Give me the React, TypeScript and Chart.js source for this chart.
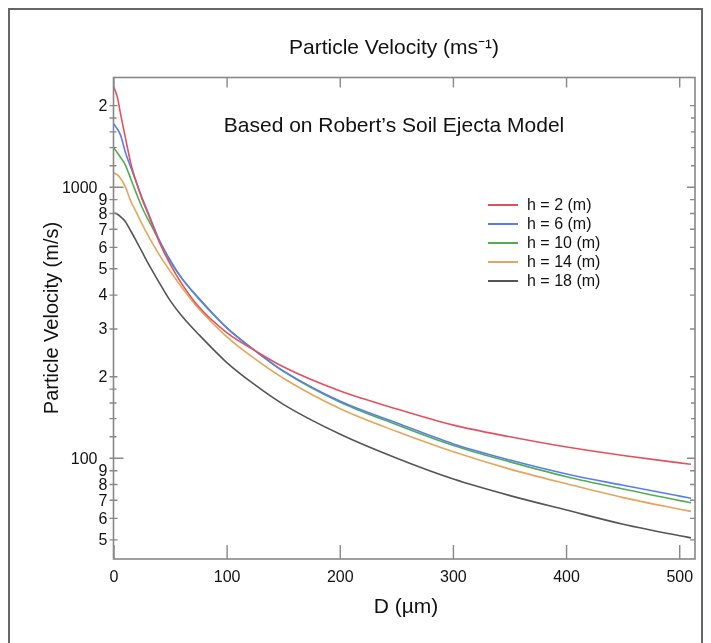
import React, { useEffect, useRef } from 'react';
import { Chart, registerables } from 'chart.js';

Chart.register(...registerables);

// Particle diameter D (µm)
const diameters = [0, 3, 6, 10, 15, 20, 25, 30, 40, 50, 60, 75, 100, 125, 150, 200, 250, 300, 350, 400, 450, 500, 510];

// Particle velocity (m/s) per depth h
const velH2 = [2340, 2150, 1850, 1530, 1220, 1038, 900, 800, 629, 517, 440, 362, 290, 249, 217, 177, 152, 132.5, 120, 110, 102.4, 96.2, 95];
const velH6 = [1710, 1640, 1550, 1350, 1180, 1035, 910, 810, 640, 536, 462, 390, 302, 249, 209.6, 162.3, 135, 113, 98.5, 87.5, 79.5, 72.5, 71.2];
const velH10 = [1395, 1340, 1285, 1210, 1070, 945, 840, 762, 636, 530, 460, 387, 302, 249, 209, 161, 133, 111.5, 97, 85.5, 77, 69.8, 68.6];
const velH14 = [1130, 1110, 1075, 1005, 885, 804, 730, 666, 564, 488, 427, 356, 280, 232, 197, 152.3, 125.5, 105.7, 91.2, 80.5, 71.6, 64.9, 63.7];
const velH18 = [804, 795, 778, 748, 688, 630, 576, 526, 445, 380, 335, 286, 225, 186, 157.8, 122.6, 100, 83.8, 72.8, 64.4, 57.1, 51.8, 50.9];

const seriesLabels = ['h = 2 (m)', 'h = 6 (m)', 'h = 10 (m)', 'h = 14 (m)', 'h = 18 (m)'];
const seriesValues = [velH2, velH6, velH10, velH14, velH18];
const seriesColors = ['#e2525e', '#5a7cf2', '#4fae50', '#e4a55c', '#555555'];

const xTickValues = [0, 100, 200, 300, 400, 500];
const xTickLabels = ['0', '100', '200', '300', '400', '500'];

const yTickValues = [2000, 1000, 900, 800, 700, 600, 500, 400, 300, 200, 100, 90, 80, 70, 60, 50];
const yTickLabels = ['2', '1000', '9', '8', '7', '6', '5', '4', '3', '2', '100', '9', '8', '7', '6', '5'];
const yMinorTicks = [1200, 1400, 1600, 1800, 120, 140, 160, 180];
const yDecades = [1000, 100];

const chartTitle = 'Particle Velocity (ms\u207B\u00B9)';
const noteText = 'Based on Robert\u2019s Soil Ejecta Model';
const xTitle = 'D (\u00B5m)';
const yTitle = 'Particle Velocity (m/s)';

const FONT = '"Liberation Sans", Arial, sans-serif';

const decorPlugin = {
  id: 'decor',
  afterDatasetsDraw(chart: any) {
    const ctx = chart.ctx as CanvasRenderingContext2D;
    const xs = chart.scales.x;
    const ys = chart.scales.y;
    const { left, right, top, bottom } = chart.chartArea;
    ctx.save();

    // outer frame
    ctx.strokeStyle = '#666666';
    ctx.lineWidth = 2;
    ctx.beginPath();
    ctx.moveTo(9, 660);
    ctx.lineTo(9, 9);
    ctx.lineTo(702, 9);
    ctx.lineTo(702, 660);
    ctx.stroke();

    // axes box
    ctx.strokeStyle = '#888888';
    ctx.lineWidth = 1.6;
    ctx.strokeRect(left, top, right - left, bottom - top);

    // x ticks (inward, bottom and top)
    ctx.lineWidth = 1.4;
    ctx.fillStyle = '#111';
    ctx.font = `16px ${FONT}`;
    ctx.textAlign = 'center';
    ctx.textBaseline = 'middle';
    xTickValues.forEach((v, i) => {
      const px = xs.getPixelForValue(v);
      ctx.beginPath();
      ctx.moveTo(px, bottom);
      ctx.lineTo(px, bottom - 14);
      ctx.moveTo(px, top);
      ctx.lineTo(px, top + 10);
      ctx.stroke();
      ctx.fillText(xTickLabels[i], px, 578);
    });

    // y ticks
    ctx.textAlign = 'right';
    yTickValues.forEach((v, i) => {
      const py = ys.getPixelForValue(v);
      const decade = yDecades.includes(v);
      ctx.beginPath();
      ctx.moveTo(left - 4, py);
      ctx.lineTo(left + (decade ? 10 : 4), py);
      ctx.moveTo(right, py);
      ctx.lineTo(right - (decade ? 8 : 5), py);
      ctx.stroke();
      ctx.fillText(yTickLabels[i], decade ? left - 16 : left - 6, py + 1);
    });
    yMinorTicks.forEach((v) => {
      const py = ys.getPixelForValue(v);
      ctx.beginPath();
      ctx.moveTo(left - 4, py);
      ctx.lineTo(left + 3, py);
      ctx.moveTo(right, py);
      ctx.lineTo(right - 4, py);
      ctx.stroke();
    });

    // titles
    ctx.fillStyle = '#111';
    ctx.textAlign = 'center';
    ctx.font = `21px ${FONT}`;
    ctx.fillText(chartTitle, 394, 48);
    ctx.fillText(noteText, 394, 126);
    ctx.font = `21px ${FONT}`;
    ctx.fillText(xTitle, 406, 607);
    ctx.font = `20px ${FONT}`;
    ctx.save();
    ctx.translate(52, 318);
    ctx.rotate(-Math.PI / 2);
    ctx.fillText(yTitle, 0, 0);
    ctx.restore();

    // legend
    ctx.font = `16px ${FONT}`;
    ctx.textAlign = 'left';
    seriesLabels.forEach((lab, i) => {
      const ly = 205 + i * 19;
      ctx.strokeStyle = seriesColors[i];
      ctx.lineWidth = 2;
      ctx.beginPath();
      ctx.moveTo(488, ly);
      ctx.lineTo(518, ly);
      ctx.stroke();
      ctx.fillStyle = '#111';
      ctx.fillText(lab, 527, ly + 1);
    });

    ctx.restore();
  },
};

export default function App() {
  const canvasRef = useRef<HTMLCanvasElement | null>(null);

  useEffect(() => {
    document.body.style.margin = '0';
    const canvas = canvasRef.current;
    if (!canvas) return;
    const chart = new Chart(canvas, {
      type: 'line',
      data: {
        datasets: seriesLabels.map((label, i) => ({
          label,
          data: diameters.map((d, j) => ({ x: d, y: seriesValues[i][j] })),
          borderColor: seriesColors[i],
          backgroundColor: seriesColors[i],
          borderWidth: 1.6,
          pointRadius: 0,
          fill: false,
          cubicInterpolationMode: 'monotone' as const,
        })),
      },
      options: {
        responsive: false,
        animation: false,
        maintainAspectRatio: false,
        layout: { padding: { left: 0, right: 16, top: 77.5, bottom: 0 } },
        plugins: {
          legend: { display: false },
          title: { display: false },
          tooltip: { enabled: false },
        },
        scales: {
          x: {
            type: 'linear',
            min: -0.4,
            max: 513.5,
            ticks: { display: false },
            grid: { display: false },
            border: { display: false },
            afterFit: (s: any) => {
              s.height = 84;
            },
          },
          y: {
            type: 'logarithmic',
            min: 42.5,
            max: 2540,
            ticks: { display: false },
            grid: { display: false },
            border: { display: false },
            afterFit: (s: any) => {
              s.width = 113.5;
            },
          },
        },
      },
      plugins: [decorPlugin],
    });
    return () => chart.destroy();
  }, []);

  return (
    <div style={{ position: 'absolute', left: 0, top: 0, width: 711, height: 643, background: '#fff' }}>
      <canvas ref={canvasRef} width={711} height={643} />
    </div>
  );
}
